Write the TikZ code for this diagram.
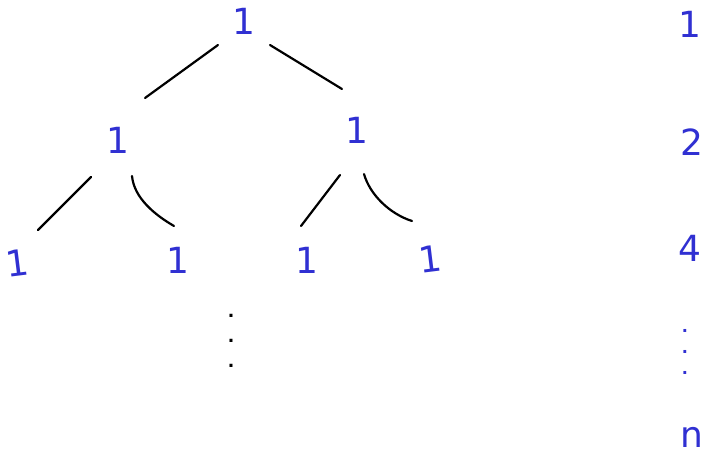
\documentclass[tikz,border=0pt]{standalone}
\usepackage{fontspec}
\setmainfont{DejaVu Sans}
\definecolor{handblue}{RGB}{48,48,210}
\begin{document}
\begin{tikzpicture}[x=1pt,y=-1pt,
  num/.style={text=handblue,inner sep=0pt,font=\fontsize{36}{38}\selectfont},
  dotsnode/.style={inner sep=0pt,align=center},
  edge/.style={draw=black,line width=2.2pt,line cap=round}]
\useasboundingbox (0,0) rectangle (710,455);
% tree
\node[num] (r) at (244,21) {1};
\node[num] (a) at (118,140) {1};
\node[num] (b) at (357,130) {1};
\node[num,rotate=7] (a1) at (17,263) {1};
\node[num] (a2) at (178,260) {1};
\node[num] (b1) at (307,260) {1};
\node[num,rotate=7] (b2) at (430,259) {1};
\node[dotsnode,font=\bfseries\fontsize{17}{25}\selectfont] (vd) at (231,341) {.\\.\\.};
% column
\node[num] (c1) at (690,24) {1};
\node[num] (c2) at (692,142) {2};
\node[num] (c4) at (690,248) {4};
\node[dotsnode,text=handblue,font=\bfseries\fontsize{16}{21}\selectfont] (cd) at (685,352) {.\\.\\.};
\node[num] (cn) at (692,437) {n};
% edges
\draw[edge] ([shift={(-26,24)}]r.center) -- ([shift={(27,-42)}]a.center);
\draw[edge] ([shift={(26,24)}]r.center) -- ([shift={(-15,-41)}]b.center);
\draw[edge] ([shift={(-27,37)}]a.center) -- ([shift={(21,-33)}]a1.center);
\draw[edge] ([shift={(14,36)}]a.center) .. controls +(2,22) and +(-19,-11) .. ([shift={(-4,-34)}]a2.center);
\draw[edge] ([shift={(-17,45)}]b.center) -- ([shift={(-6,-34)}]b1.center);
\draw[edge] ([shift={(7,44)}]b.center) .. controls +(6,21) and +(-22,-7) .. ([shift={(-18,-38)}]b2.center);
\end{tikzpicture}
\end{document}
